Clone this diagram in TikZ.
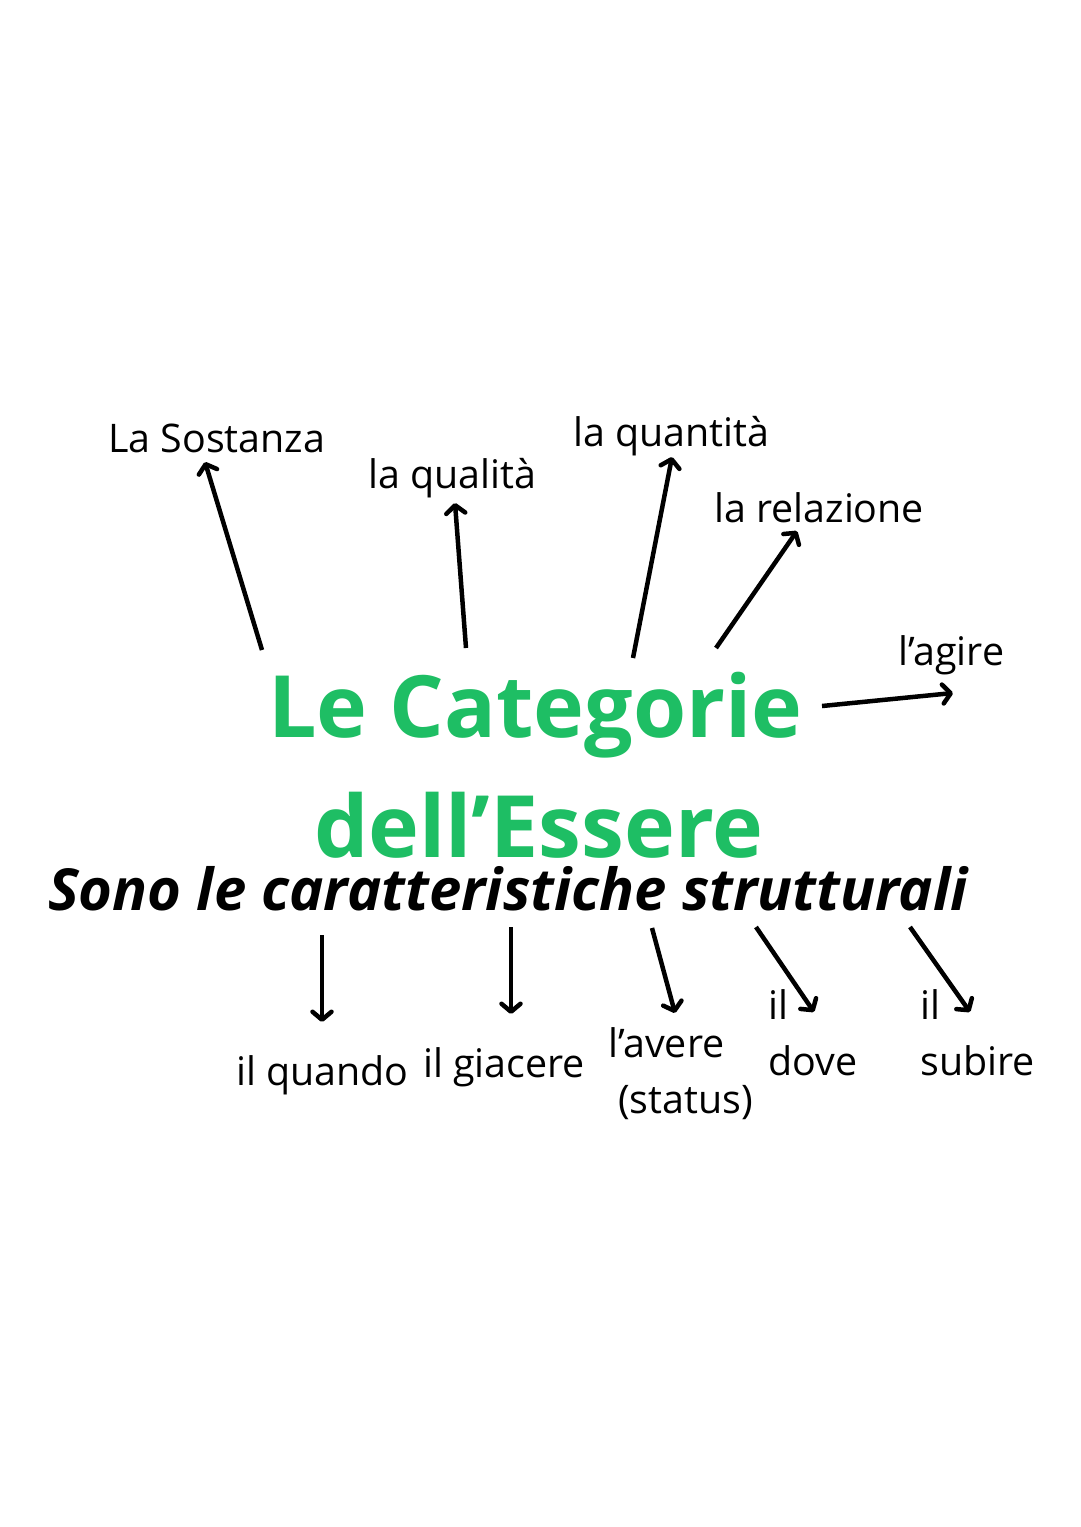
\documentclass[tikz,border=0pt]{standalone}
\usepackage{fontspec}
\setmainfont{Open Sans}
\usetikzlibrary{arrows.meta}
\usetikzlibrary{positioning}
\definecolor{verde}{RGB}{30,190,100}
\tikzstyle{arrow} = [line width=4.5pt,-{Straight Barb[length=8pt,width=19pt,round]}]
\tikzstyle{voce} = [inner sep=2pt, font=\fontsize{39.4}{56}\selectfont]
\tikzstyle{titolo} = [inner sep=0pt, font=\fontsize{86}{120}\selectfont\bfseries, text=verde]
\tikzstyle{sotto} = [inner sep=0pt, font=\fontsize{58}{60}\selectfont\bfseries\itshape]

\begin{document}
\begin{tikzpicture}[x=1pt,y=-1pt]
\fill [white] (0,0) rectangle (1080,1527);
\useasboundingbox (0,0) rectangle (1080,1527);

% titolo
\node (titolo1) [titolo, anchor=base west] at (268,737) {Le Categorie};
\node (titolo2) [titolo, anchor=base west] at (314,857) {dell’Essere};
\node (sottotitolo) [sotto, anchor=base west] at (48,910) {Sono le caratteristiche strutturali};

% sopra
\node (sostanza) [voce, anchor=base west] at (106,452) {La Sostanza};
\node (qualita) [voce, anchor=base west] at (366,488) {la qualità};
\node (quantita) [voce, anchor=base west] at (571,446) {la quantità};
\node (relazione) [voce, anchor=base west] at (712,522) {la relazione};
\node (agire) [voce, anchor=base west] at (896,665) {l’agire};

\coordinate (da-sostanza) at (262,650);
\coordinate (da-qualita) at (466,648);
\coordinate (da-quantita) at (633,658);
\coordinate (da-relazione) at (716,648);
\coordinate (da-agire) at (822,706);

% sotto
\node (quando) [voce, anchor=base west] at (234,1085) {il quando};
\node (giacere) [voce, anchor=base west] at (421,1077) {il giacere};
\node (avere) [voce, align=left, anchor=base west] at (606,1113) {l’avere\\\hspace*{10pt}(status)};
\node (dove) [voce, align=left, anchor=base west] at (766,1075) {il\\dove};
\node (subire) [voce, align=left, anchor=base west] at (918,1075) {il\\subire};

\coordinate (da-quando) at (322,935);
\coordinate (da-giacere) at (511,927);
\coordinate (da-avere) at (652,928);
\coordinate (da-dove) at (756,927);
\coordinate (da-subire) at (910,927);

\draw [arrow] (da-sostanza) -- ([xshift=99pt,yshift=-10pt]sostanza.base west);
\draw [arrow] (da-qualita) -- ([xshift=89pt,yshift=-15pt]qualita.base west);
\draw [arrow] (da-quantita) -- ([xshift=101pt,yshift=-11pt]quantita.base west);
\draw [arrow] (da-relazione) -- ([xshift=85pt,yshift=-9pt]relazione.base west);
\draw [arrow] (da-agire) -- ([xshift=57pt,yshift=-28pt]agire.base west);

\draw [arrow] (da-quando) -- ([xshift=88pt,yshift=63pt]quando.base west);
\draw [arrow] (da-giacere) -- ([xshift=90pt,yshift=63pt]giacere.base west);
\draw [arrow] (da-avere) -- ([xshift=69pt,yshift=100pt]avere.base west);
\draw [arrow] (da-dove) -- ([xshift=48pt,yshift=63pt]dove.base west);
\draw [arrow] (da-subire) -- ([xshift=52pt,yshift=63pt]subire.base west);
\end{tikzpicture}
\end{document}
